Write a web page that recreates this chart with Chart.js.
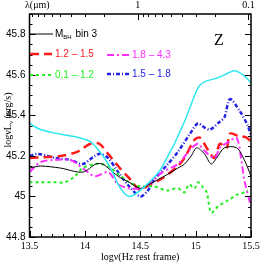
<!DOCTYPE html>
<html>
<head>
<meta charset="utf-8">
<script src="https://cdn.jsdelivr.net/npm/chart.js@4/dist/chart.umd.min.js"></script>
<style>
  html, body { margin: 0; padding: 0; background: #fff; }
  #wrap { width: 266px; height: 266px; }
</style>
</head>
<body>
<div id="wrap"><canvas id="chart" width="266" height="266"></canvas></div>
<script>
// values: log nu (Hz) vs log nu L_nu (erg/s)
const nuCyan = [13.5, 13.6, 13.75, 13.95, 14.05, 14.12, 14.2, 14.25, 14.3, 14.35, 14.4, 14.45, 14.5, 14.6, 14.68, 14.75, 14.8, 14.85, 14.9, 14.95, 15.0, 15.04, 15.1, 15.17, 15.22, 15.3, 15.35, 15.4, 15.45, 15.5];
const lCyan = [45.36, 45.33, 45.31, 45.29, 45.27, 45.23, 45.17, 45.12, 45.06, 45.02, 45.0, 45.01, 45.03, 45.08, 45.13, 45.2, 45.25, 45.31, 45.37, 45.44, 45.51, 45.55, 45.57, 45.58, 45.59, 45.61, 45.62, 45.61, 45.59, 45.56];

const nuBlack = [13.5, 13.6, 13.78, 13.98, 14.1, 14.16, 14.21, 14.3, 14.4, 14.5, 14.58, 14.65, 14.75, 14.84, 14.9, 14.96, 15.01, 15.08, 15.14, 15.19, 15.26, 15.37, 15.44, 15.5];
const lBlack = [45.14, 45.15, 45.14, 45.12, 45.16, 45.16, 45.14, 45.1, 45.07, 45.04, 45.06, 45.08, 45.11, 45.14, 45.16, 45.2, 45.24, 45.21, 45.16, 45.19, 45.24, 45.24, 45.18, 45.1];

const nuRed = [13.5, 13.78, 13.93, 14.05, 14.13, 14.21, 14.3, 14.4, 14.5, 14.56, 14.7, 14.84, 14.9, 14.99, 15.04, 15.11, 15.17, 15.22, 15.28, 15.31, 15.38, 15.46, 15.5];
const lRed = [45.19, 45.2, 45.22, 45.26, 45.26, 45.21, 45.15, 45.09, 45.03, 45.05, 45.09, 45.15, 45.19, 45.28, 45.29, 45.23, 45.19, 45.26, 45.24, 45.31, 45.3, 45.29, 45.27];

const nuMagenta = [13.5, 13.6, 13.73, 13.87, 13.98, 14.09, 14.21, 14.3, 14.4, 14.5, 14.56, 14.7, 14.84, 14.95, 15.02, 15.07, 15.17, 15.22, 15.3, 15.37, 15.41, 15.44, 15.5];
const lMagenta = [45.12, 45.17, 45.18, 45.18, 45.14, 45.1, 45.12, 45.06, 45.04, 45.04, 45.05, 45.12, 45.16, 45.23, 45.26, 45.23, 45.19, 45.24, 45.27, 45.29, 45.19, 45.08, 44.95];

const nuBlue = [13.5, 13.58, 13.73, 13.87, 13.98, 14.09, 14.14, 14.21, 14.3, 14.4, 14.5, 14.57, 14.62, 14.75, 14.84, 14.95, 15.02, 15.08, 15.13, 15.22, 15.26, 15.31, 15.4, 15.47, 15.5];
const lBlue = [45.2, 45.21, 45.19, 45.18, 45.16, 45.2, 45.21, 45.19, 45.12, 45.05, 45.0, 45.03, 45.08, 45.16, 45.22, 45.31, 45.36, 45.34, 45.33, 45.37, 45.39, 45.48, 45.42, 45.35, 45.3];

const nuGreen = [13.5, 13.6, 13.73, 13.82, 13.91, 13.98, 14.09, 14.14, 14.21, 14.3, 14.4, 14.5, 14.62, 14.74, 14.84, 14.9, 14.94, 14.99, 15.02, 15.06, 15.1, 15.14, 15.2, 15.29, 15.38, 15.44, 15.47];
const lGreen = [45.07, 45.07, 45.07, 45.07, 45.1, 45.14, 45.16, 45.16, 45.15, 45.11, 45.07, 45.05, 45.05, 45.03, 45.04, 45.02, 45.06, 45.04, 45.07, 45.05, 45.02, 44.92, 44.95, 44.98, 45.01, 45.02, 45.03];

const xTicks = [13.5, 14, 14.5, 15, 15.5];
const yTicks = [44.8, 45, 45.2, 45.4, 45.6, 45.8];
const lambdaMajor = [1, 0.1];
const lambdaMinor = [9, 8, 7, 6, 5, 4, 3, 2, 0.9, 0.8, 0.7, 0.6, 0.5, 0.4, 0.3, 0.2];

const legendNames = ['bin 3', '1.2 \u2013 1.5', '0.1 \u2013 1.2', '1.8 \u2013 4.3', '1.5 \u2013 1.8'];

// lambda in micron -> log nu
function lamToNu(l) { return Math.log10(2.998e14 / l); }

function pts(xs, ys) { return xs.map((x, i) => ({ x: x, y: ys[i] })); }

const serif = '"Liberation Serif", "DejaVu Serif", serif';
const sans = '"Liberation Sans", Arial, sans-serif';

const lines = [
  { label: 'cyan', data: pts(nuCyan, lCyan), borderColor: '#2ee8ef', borderWidth: 1.5, borderDash: [] },
  { label: 'M_BH bin 3', data: pts(nuBlack, lBlack), borderColor: '#000000', borderWidth: 1, borderDash: [] },
  { label: legendNames[2], data: pts(nuGreen, lGreen), borderColor: '#22ee22', borderWidth: 2, borderDash: [3, 3] },
  { label: legendNames[3], data: pts(nuMagenta, lMagenta), borderColor: '#ff2eff', borderWidth: 2, borderDash: [7, 3, 2, 3] },
  { label: legendNames[1], data: pts(nuRed, lRed), borderColor: '#ff1a1a', borderWidth: 2.5, borderDash: [9, 5] },
  { label: legendNames[4], data: pts(nuBlue, lBlue), borderColor: '#2424e8', borderWidth: 2.5, borderDash: [4, 2, 1, 2] }
];

const frame = {
  id: 'frame',
  afterDraw(chart) {
    const ctx = chart.ctx;
    const a = chart.chartArea;
    const xs = chart.scales.x;
    const ys = chart.scales.y;
    ctx.save();
    ctx.strokeStyle = '#000';
    ctx.lineWidth = 1;
    ctx.beginPath();
    // inward ticks, bottom + left + right
    for (let v = 13.5; v <= 15.5001; v += 0.1) {
      const px = Math.round(xs.getPixelForValue(v)) + 0.5;
      const major = Math.abs(v * 2 - Math.round(v * 2)) < 1e-6;
      const len = major ? 6 : 3;
      ctx.moveTo(px, a.bottom); ctx.lineTo(px, a.bottom - len);
    }
    for (let v = 44.8; v <= 45.9001; v += 0.05) {
      const py = Math.round(ys.getPixelForValue(v)) + 0.5;
      const major = Math.abs(v * 5 - Math.round(v * 5)) < 1e-6;
      const len = major ? 6 : 3;
      ctx.moveTo(a.left, py); ctx.lineTo(a.left + len, py);
      ctx.moveTo(a.right, py); ctx.lineTo(a.right - len, py);
    }
    // top axis in wavelength
    lambdaMajor.concat(lambdaMinor).forEach(l => {
      const px = Math.round(xs.getPixelForValue(lamToNu(l))) + 0.5;
      const len = lambdaMajor.includes(l) ? 6 : 3;
      ctx.moveTo(px, a.top); ctx.lineTo(px, a.top + len);
    });
    ctx.stroke();
    ctx.lineWidth = 1.5;
    ctx.strokeRect(a.left, a.top, a.right - a.left, a.bottom - a.top);

    ctx.fillStyle = '#000';
    ctx.textBaseline = 'middle';
    ctx.font = '10px ' + serif;
    ctx.textAlign = 'center';
    lambdaMajor.forEach(l => {
      ctx.fillText(String(l), xs.getPixelForValue(lamToNu(l)), 5);
    });
    ctx.textAlign = 'left';
    ctx.fillText('\u03bb(\u03bcm)', 25, 5);

    // x title
    ctx.textAlign = 'center';
    ctx.fillText('log\u03bd(Hz rest frame)', (a.left + a.right) / 2, 257);

    // y title, rotated with subscript nu
    ctx.save();
    ctx.translate(8, 120);
    ctx.rotate(-Math.PI / 2);
    ctx.textAlign = 'left';
    const t1 = 'log\u03bdL';
    const t2 = ' (erg/s)';
    ctx.font = '10px ' + serif;
    const w1 = ctx.measureText(t1).width;
    ctx.font = '7px ' + serif;
    const w2 = ctx.measureText('\u03bd').width;
    ctx.font = '10px ' + serif;
    const w3 = ctx.measureText(t2).width;
    let sx = -(w1 + w2 + w3) / 2;
    ctx.fillText(t1, sx, 0);
    ctx.font = '7px ' + serif;
    ctx.fillText('\u03bd', sx + w1, 3);
    ctx.font = '10px ' + serif;
    ctx.fillText(t2, sx + w1 + w2, 0);
    ctx.restore();

    // legend
    const leg = [
      [1, 29, 53, 34, 55],
      [4, 30, 52, 54, 55],
      [2, 30, 53, 75, 55],
      [3, 107, 130, 55, 132],
      [5, 107, 130, 74, 132]
    ];
    leg.forEach((r, i) => {
      const ds = lines[r[0]];
      ctx.save();
      ctx.strokeStyle = ds.borderColor;
      ctx.lineWidth = ds.borderWidth;
      ctx.setLineDash(ds.borderDash);
      ctx.beginPath();
      ctx.moveTo(r[1], r[3]); ctx.lineTo(r[2], r[3]);
      ctx.stroke();
      ctx.restore();
      ctx.textAlign = 'left';
      if (i === 0) {
        ctx.fillStyle = '#000';
        ctx.font = '10px ' + sans;
        ctx.fillText('M', r[4], r[3]);
        const mw = ctx.measureText('M').width;
        ctx.font = '6px ' + sans;
        ctx.fillText('BH', r[4] + mw, r[3] + 3);
        const bw = ctx.measureText('BH').width;
        ctx.font = '10px ' + sans;
        ctx.fillText(' ' + legendNames[0], r[4] + mw + bw + 1, r[3]);
      } else {
        ctx.fillStyle = ds.borderColor;
        ctx.font = '10px ' + sans;
        ctx.fillText(ds.label, r[4], r[3] + 0.5);
      }
    });

    ctx.fillStyle = '#000';
    ctx.font = '16px ' + serif;
    ctx.textAlign = 'center';
    ctx.fillText('Z', 219, 41);
    ctx.restore();
  }
};

new Chart(document.getElementById('chart').getContext('2d'), {
  type: 'line',
  data: {
    datasets: lines.map(d => ({
      label: d.label,
      data: d.data,
      borderColor: d.borderColor,
      borderWidth: d.borderWidth,
      borderDash: d.borderDash,
      pointRadius: 0,
      fill: false,
      tension: 0.3
    }))
  },
  options: {
    responsive: false,
    animation: false,
    layout: { padding: { top: 14, right: 15, left: 0, bottom: 0 } },
    plugins: { legend: { display: false }, tooltip: { enabled: false } },
    scales: {
      x: {
        type: 'linear', min: 13.5, max: 15.5,
        afterBuildTicks: s => { s.ticks = xTicks.map(v => ({ value: v })); },
        afterFit: s => { s.height = 29; },
        grid: { display: false, drawTicks: false },
        border: { display: false },
        ticks: {
          padding: 3, color: '#000', maxRotation: 0,
          font: { family: serif, size: 10 },
          callback: v => String(v)
        }
      },
      y: {
        type: 'linear', min: 44.8, max: 45.9,
        afterBuildTicks: s => { s.ticks = yTicks.map(v => ({ value: v })); },
        afterFit: s => { s.width = 29.5; },
        grid: { display: false, drawTicks: false },
        border: { display: false },
        ticks: {
          padding: 4, color: '#000',
          font: { family: sans, size: 10 },
          callback: v => String(Math.round(v * 10) / 10)
        }
      }
    }
  },
  plugins: [frame]
});
</script>
</body>
</html>
